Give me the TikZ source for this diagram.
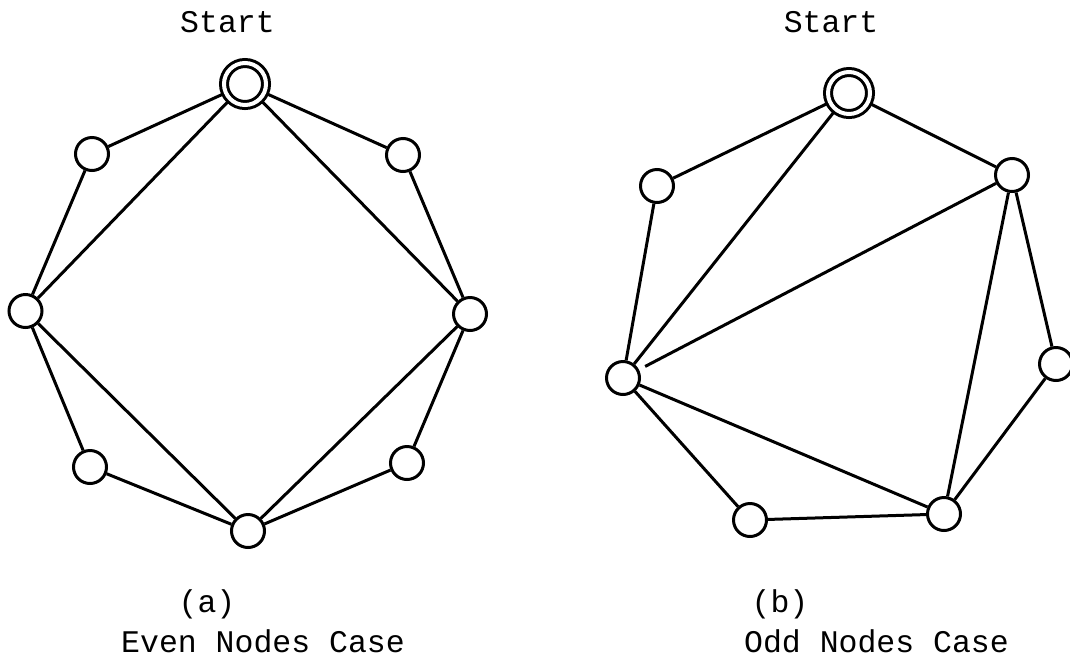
\documentclass[tikz,border=0pt]{standalone}
\usepackage{fontspec}
\newfontfamily\cour{Liberation Mono}
\begin{document}
\begin{tikzpicture}[x=1pt,y=-1pt,
  vtx/.style={circle,draw,line width=3pt,minimum size=33pt,inner sep=0pt,fill=white},
  startv/.style={circle,draw,line width=3pt,minimum size=42pt,inner sep=0pt,fill=white,
     double=white,double distance=4pt},
  edge/.style={line width=3pt},
  lbl/.style={font=\cour\fontsize{31.5}{38}\selectfont,anchor=base,inner sep=0pt}]
\useasboundingbox (0,0) rectangle (1070,665);
% (a)
\node[vtx] (aS) at (245,84) {};
\node[vtx] (aUL) at (92,154) {};
\node[vtx] (aUR) at (403,155) {};
\node[vtx] (aL) at (25.5,311) {};
\node[vtx] (aR) at (470,314) {};
\node[vtx] (aLL) at (90,467) {};
\node[vtx] (aLR) at (407,463) {};
\node[vtx] (aB) at (248,531) {};
\draw[edge] (aS) -- (aUL) (aS) -- (aUR) (aS) -- (aL) (aS) -- (aR)
  (aUL) -- (aL) (aUR) -- (aR) (aL) -- (aLL) (aL) -- (aB)
  (aR) -- (aLR) (aR) -- (aB) (aLL) -- (aB) (aLR) -- (aB);
\node[startv] at (aS) {};
% (b)
\node[vtx] (bS) at (849,93) {};
\node[vtx] (bUL) at (657,186) {};
\node[vtx] (bUR) at (1012,175) {};
\node[vtx] (bL) at (623,378) {};
\node[vtx] (bR) at (1056,364) {};
\node[vtx] (bBL) at (750,520) {};
\node[vtx] (bBR) at (944,514) {};
\draw[edge] (bS) -- (bUL) (bS) -- (bUR) (bS) -- (bL) (bUL) -- (bL)
  (bUR) -- (bR) (bUR) -- (bBR) (bR) -- (bBR)
  (bL) -- (bBL) (bL) -- (bBR) (bBL) -- (bBR);
\draw[edge,shorten >=7pt] (bUR) -- (bL);
\node[startv] at (bS) {};
% labels
\node[lbl] (t1) at (227.5,32) {Start};
\node[lbl] (t2) at (831,32) {Start};
\node[lbl] (t3) at (207,612) {(a)};
\node[lbl] (t4) at (780,612) {(b)};
\node[lbl] (t5) at (263,652) {Even Nodes Case};
\node[lbl] (t6) at (876.5,652) {Odd Nodes Case};
\end{tikzpicture}
\end{document}
